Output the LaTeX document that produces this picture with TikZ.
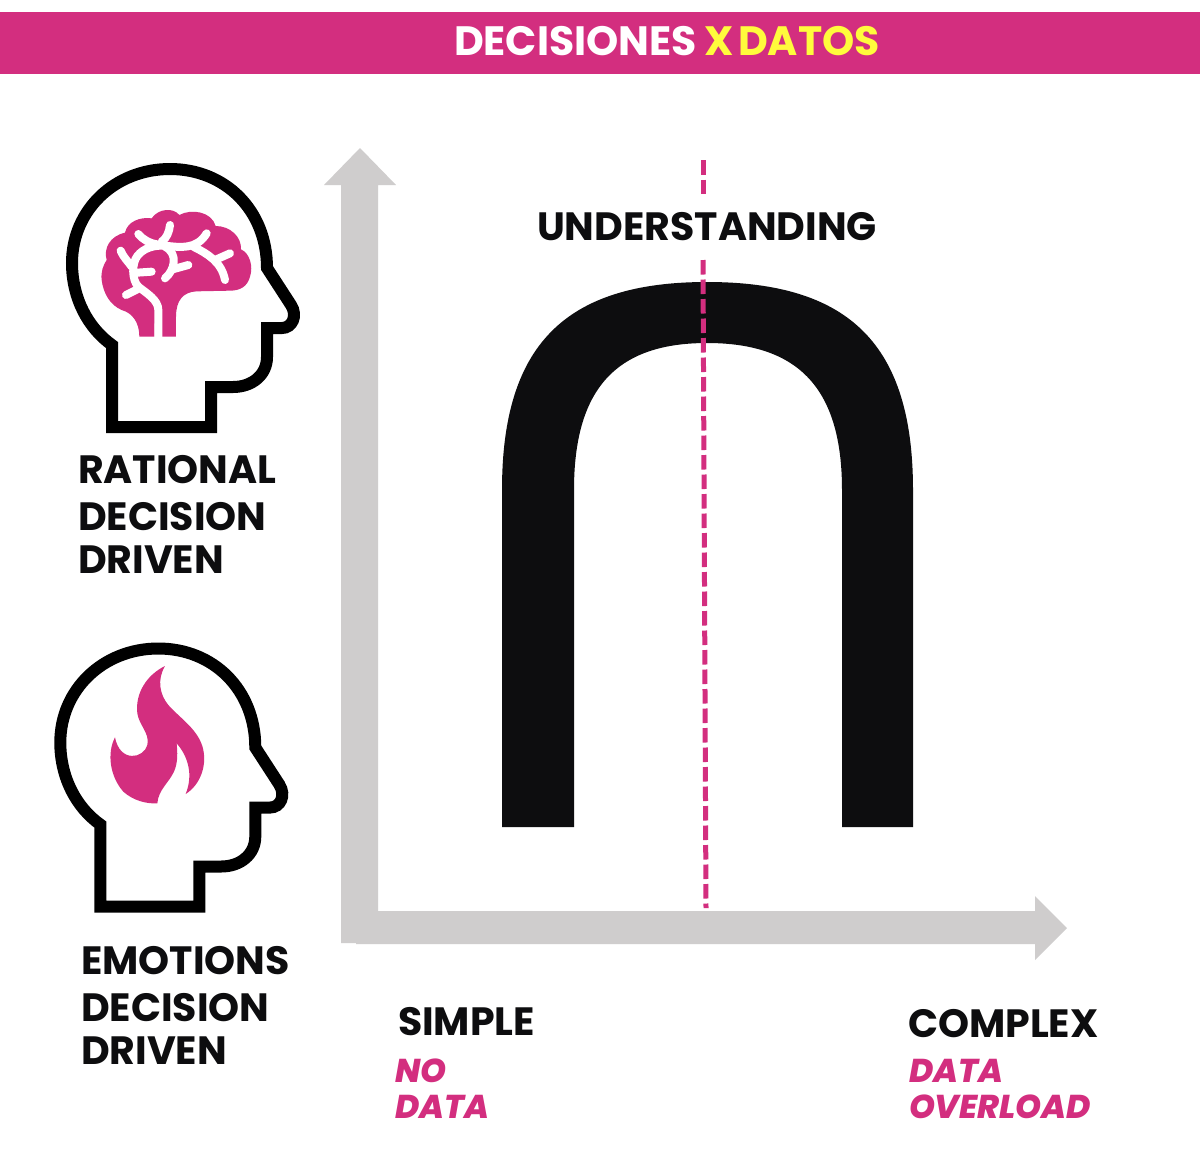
\documentclass[tikz,border=0pt]{standalone}
\usepackage{fontspec}
\setmainfont{Poppins}[BoldFont=* Bold,BoldItalicFont=* ExtraBold Italic]
\definecolor{pk}{HTML}{D32E7F}
\definecolor{gy}{HTML}{CFCDCD}
\definecolor{bk}{HTML}{0D0D0F}
\definecolor{yl}{HTML}{FFFB3C}
\newcommand{\fs}[1]{\fontsize{#1}{#1}\selectfont\bfseries}
\tikzset{
 lbl/.style={anchor=base west,inner sep=0,outer sep=0,text=bk,font=\fs{39.5},align=left},
 sub/.style={anchor=base west,inner sep=0,outer sep=0,text=pk,font=\fs{33}\itshape},
 ttl/.style={anchor=base west,inner sep=0,outer sep=0,font=\fs{41}},
 headline/.style={draw=black,line width=12pt,line join=miter,fill=white},
 branch/.style={draw=white,line width=8pt,line cap=round,line join=round},
 pinkdash/.style={draw=pk,line width=5pt,dash pattern=on 14.5pt off 5pt}
}
\newcommand{\headpath}{
 \draw[headline] (112,427) -- (112,345)
  .. controls (88,328) and (72,298) .. (72,263)
  .. controls (72,210) and (115,169) .. (170,169)
  .. controls (225,169) and (267,210) .. (267,268)
  -- (291,305)
  .. controls (298,316) and (292,328) .. (282,328)
  -- (267,328) -- (267,357)
  .. controls (267,375) and (252,387) .. (233,387)
  -- (211,387) -- (211,427) -- cycle;
}
\begin{document}
\begin{tikzpicture}[x=1pt,y=-1pt]
\useasboundingbox (0,0) rectangle (1200,1149);
\fill[white] (0,0) rectangle (1200,1149);
\fill[pk] (0,12) rectangle (1200,74);
\node[ttl,text=white] (title) at (454,55) {DECISIONES};
\node[ttl,text=yl] (titlex) at (704,55) {X};
\node[ttl,text=yl] (titled) at (738,55) {DATOS};
% axes
\fill[gy] (341,943) -- (341,185) -- (324,185) -- (360,148) -- (396,185) -- (378,185) -- (378,911) -- (1035,911) -- (1035,896) -- (1067,928) -- (1035,960) -- (1035,944) -- (356,944) -- (356,943) -- cycle;
% arch
\fill[bk] (502,827) -- (502,490)
 .. controls (502,345) and (565,282) .. (707,282)
 .. controls (850,282) and (913,345) .. (913,490)
 -- (913,827) -- (842,827) -- (842,490)
 .. controls (842,390) and (800,343) .. (707,343)
 .. controls (615,343) and (574,390) .. (574,490)
 -- (574,827) -- cycle;
% dashes
\coordinate (d1) at (703,160);
\coordinate (d2) at (703,194);
\coordinate (d3) at (703,260);
\coordinate (d4) at (706,908);
\draw[pinkdash] (d1) -- (d2);
\draw[pinkdash] (d3) -- (d4);
\node[lbl] (und) at (537,240) {UNDERSTANDING};
% head 1
\headpath
\begin{scope}[shift={(50,150)},scale=1/3]
\fill[pk] (268,560) .. controls (268,520) and (250,490) .. (215,480)
 .. controls (180,465) and (160,430) .. (155,390)
 .. controls (152,365) and (160,345) .. (170,330)
 .. controls (160,295) and (180,258) .. (225,248)
 .. controls (232,215) and (270,200) .. (305,205)
 .. controls (325,175) and (370,172) .. (388,195)
 .. controls (425,175) and (485,185) .. (497,228)
 .. controls (540,228) and (575,260) .. (573,298)
 .. controls (600,310) and (610,350) .. (600,380)
 .. controls (592,410) and (570,422) .. (540,422)
 -- (440,424)
 .. controls (400,426) and (378,450) .. (378,500)
 -- (378,560) -- (336,560) -- (336,520) -- (314,520) -- (314,560) -- cycle;
\draw[branch,line cap=butt] (325,562) -- (325,480) .. controls (325,450) and (290,430) .. (265,410);
\draw[branch] (265,410) .. controls (245,390) and (245,340) .. (262,318) .. controls (280,295) and (310,285) .. (345,287) .. controls (390,292) and (440,300) .. (470,250);
\draw[branch] (430,290) .. controls (470,310) and (515,335) .. (525,390);
\draw[branch] (495,330) -- (540,310);
\draw[branch] (320,283) .. controls (300,280) and (280,270) .. (265,252);
\draw[branch] (335,275) .. controls (350,265) and (358,245) .. (360,225);
\draw[branch] (345,290) .. controls (385,310) and (375,360) .. (345,385);
\draw[branch] (368,358) -- (415,345);
\draw[branch] (262,368) -- (305,365);
\draw[branch] (262,418) -- (228,435);
\draw[branch] (245,350) .. controls (235,335) and (222,325) .. (212,302);
\end{scope}
% head 2
\begin{scope}[shift={(-11.7,479.5)}]
\headpath
\end{scope}
\begin{scope}[shift={(40,630)},scale=1/3]
\fill[pk] (375,108) .. controls (320,135) and (285,190) .. (292,250)
 .. controls (297,285) and (330,310) .. (322,345)
 .. controls (312,385) and (240,400) .. (225,322)
 .. controls (200,370) and (210,440) .. (250,485)
 .. controls (280,512) and (320,522) .. (352,520)
 .. controls (355,480) and (385,460) .. (402,425)
 .. controls (415,395) and (412,365) .. (410,340)
 .. controls (445,380) and (460,435) .. (437,492)
 .. controls (480,465) and (500,410) .. (490,360)
 .. controls (478,300) and (420,265) .. (385,225)
 .. controls (360,195) and (350,150) .. (375,108) -- cycle;
\end{scope}
% labels
\node[lbl] (r1) at (78,483) {RATIONAL};
\node[lbl] (r2) at (78,530) {DECISION};
\node[lbl] (r3) at (78,573) {DRIVEN};
\node[lbl] (e1) at (81,974) {EMOTIONS};
\node[lbl] (e2) at (81,1021) {DECISION};
\node[lbl] (e3) at (81,1064) {DRIVEN};
\node[lbl] (s) at (398,1035) {SIMPLE};
\node[lbl] (c) at (908,1037) {COMPLEX};
\node[sub] (s1) at (395,1082) {NO};
\node[sub] (s2) at (395,1118) {DATA};
\node[sub] (c1) at (909,1082) {DATA};
\node[sub] (c2) at (909,1118) {OVERLOAD};
\end{tikzpicture}
\end{document}
